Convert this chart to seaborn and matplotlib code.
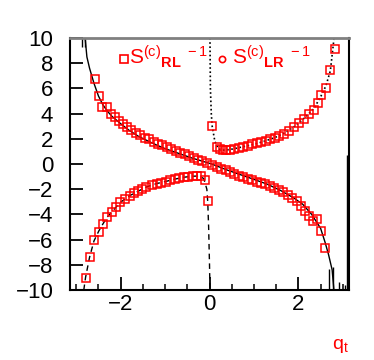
import numpy as np
import pandas as pd
import matplotlib
matplotlib.use("Agg")
import matplotlib.pyplot as plt
import seaborn as sns

plt.rcParams['font.family'] = ['Liberation Sans', 'DejaVu Sans']
plt.rcParams['mathtext.fontset'] = 'custom'
plt.rcParams['mathtext.sf'] = 'Liberation Sans'
plt.rcParams['mathtext.rm'] = 'Liberation Sans'
plt.rcParams['mathtext.it'] = 'Liberation Sans'
plt.rcParams['mathtext.bf'] = 'Liberation Sans:bold'

# solid curve (upper left -> lower right)
solid_x = [-2.80, -2.76, -2.70, -2.60, -2.50, -2.40, -2.30, -2.20, -2.00, -1.80,
           -1.60, -1.40, -1.20, -1.00, -0.70, -0.40, 0.05, 0.40, 0.70, 1.00,
           1.30, 1.60, 1.90, 2.10, 2.30, 2.50, 2.60, 2.68, 2.76, 2.80]
solid_y = [10.0, 8.5, 7.6, 6.4, 5.4, 4.7, 4.2, 3.8, 3.2, 2.65,
           2.2, 1.85, 1.52, 1.22, 0.85, 0.48, 0.0, -0.48, -0.85, -1.22,
           -1.6, -2.1, -2.7, -3.2, -4.0, -5.1, -6.2, -7.2, -8.4, -10.0]

# dashed curve (lower left branch)
dash_x = [-2.83, -2.79, -2.70, -2.60, -2.49, -2.39, -2.30, -2.20, -2.01, -1.79,
          -1.60, -1.42, -1.19, -0.98, -0.78, -0.58, -0.38, -0.24, -0.13, -0.06,
          -0.04, -0.02, 0.00, 0.01]
dash_y = [-10.0, -9.0, -7.4, -6.1, -5.3, -4.7, -4.2, -3.8, -3.05, -2.5,
          -2.15, -1.82, -1.55, -1.38, -1.2, -1.05, -0.97, -0.95, -1.15, -2.0,
          -3.0, -5.0, -8.0, -10.0]

# dotted curve (upper right branch)
dot_x = [0.01, 0.02, 0.04, 0.06, 0.12, 0.20, 0.30, 0.45, 0.66, 0.86,
         1.07, 1.27, 1.47, 1.67, 1.90, 2.12, 2.35, 2.51, 2.62, 2.72, 2.80]
dot_y = [10.0, 6.0, 4.0, 3.0, 1.8, 1.2, 1.1, 1.14, 1.3, 1.45,
         1.63, 1.85, 2.1, 2.42, 2.95, 3.6, 4.4, 5.4, 6.2, 7.4, 9.9]

# markers on the solid curve
rl_x = [-2.58, -2.49, -2.41, -2.31, -2.22, -2.12, -2.03, -1.94, -1.85, -1.76,
        -1.66, -1.56, -1.46, -1.36, -1.26, -1.16, -1.06, -0.96, -0.86, -0.76,
        -0.66, -0.56, -0.46, -0.36, -0.26, -0.16, -0.06, 0.06, 0.16, 0.26,
        0.36, 0.46, 0.56, 0.66, 0.76, 0.86, 0.96, 1.06, 1.16, 1.26,
        1.36, 1.46, 1.56, 1.66, 1.76, 1.86, 1.96, 2.06, 2.15, 2.25,
        2.32, 2.42, 2.51, 2.61]
rl_y = [6.76, 5.43, 4.55, 4.5, 4.0, 3.7, 3.45, 3.15, 2.9, 2.7,
        2.45, 2.3, 2.1, 1.95, 1.78, 1.62, 1.48, 1.33, 1.18, 1.03,
        0.9, 0.77, 0.62, 0.48, 0.35, 0.22, 0.08, -0.1, -0.22, -0.38,
        -0.5, -0.63, -0.78, -0.92, -1.04, -1.15, -1.28, -1.4, -1.5, -1.62,
        -1.75, -1.88, -2.05, -2.25, -2.45, -2.7, -2.95, -3.3, -3.7, -4.1,
        -4.5, -4.4, -5.33, -6.66]

# markers on the dashed and dotted branches
lr_x = [-2.79, -2.70, -2.60, -2.49, -2.39, -2.30, -2.20, -2.10, -2.01, -1.90,
        -1.79, -1.70, -1.60, -1.51, -1.42, -1.30, -1.19, -1.09, -0.98, -0.88,
        -0.78, -0.68, -0.58, -0.48, -0.38, -0.28, -0.19, -0.11, -0.04,
        0.05, 0.17, 0.24, 0.30, 0.38, 0.46, 0.56, 0.66, 0.76, 0.86,
        0.96, 1.07, 1.17, 1.27, 1.37, 1.47, 1.57, 1.67, 1.78, 1.90,
        2.01, 2.12, 2.23, 2.35, 2.44, 2.51, 2.62, 2.72, 2.82]
lr_y = [-9.04, -7.36, -6.07, -5.4, -4.76, -4.2, -3.8, -3.4, -3.04, -2.75,
        -2.5, -2.33, -2.17, -2.0, -1.82, -1.68, -1.56, -1.5, -1.4, -1.3,
        -1.2, -1.12, -1.05, -1.0, -0.97, -0.96, -0.95, -1.24, -2.9,
        3.0, 1.37, 1.17, 1.12, 1.12, 1.15, 1.2, 1.3, 1.38, 1.45,
        1.55, 1.63, 1.75, 1.85, 1.95, 2.1, 2.25, 2.42, 2.65, 2.95,
        3.25, 3.6, 3.95, 4.28, 4.85, 5.45, 6.05, 7.5, 9.1]

# short vertical strokes near the asymptotes
spike_x = [-2.88, -2.81, 2.70, 2.78, 2.91, 3.04, 3.09]
spike_lo = [9.3, 9.3, -10.0, -10.0, -10.0, -10.0, -10.0]
spike_hi = [10.0, 10.0, -8.3, -8.2, -9.4, -9.6, 0.7]

fig = plt.figure(figsize=(3.74, 3.6), dpi=100)
ax = fig.add_axes([0.1872, 0.1944, 0.746, 0.70])

sns.lineplot(x=solid_x, y=solid_y, sort=False, estimator=None, color='black',
             linewidth=1.0, ax=ax)
sns.lineplot(x=dash_x, y=dash_y, sort=False, estimator=None, color='black',
             linewidth=1.0, linestyle=(0, (4, 3)), ax=ax)
sns.lineplot(x=dot_x, y=dot_y, sort=False, estimator=None, color='black',
             linewidth=1.2, linestyle=(0, (1, 1.5)), ax=ax)
ax.vlines(spike_x, spike_lo, spike_hi, color='black', linewidth=1.0)

ax.plot(rl_x, rl_y, linestyle='none', marker='s', markersize=5.4,
        markerfacecolor='none', markeredgecolor='red', markeredgewidth=1.1)
ax.plot(lr_x, lr_y, linestyle='none', marker='s', markersize=5.4,
        markerfacecolor='none', markeredgecolor='red', markeredgewidth=1.1)

ax.set_xlim(-3.14, 3.14)
ax.set_ylim(-10, 10)
ax.set_xticks([-2, 0, 2])
ax.set_xticks(np.arange(-3.0, 3.01, 0.5), minor=True)
ax.set_yticks(np.arange(-10, 11, 2))
ax.tick_params(axis='both', which='major', direction='in', length=9.5, width=1.3,
               labelsize=16, top=False, right=False)
ax.tick_params(axis='x', which='minor', direction='in', length=4.5, width=1.1,
               top=False)
ax.tick_params(axis='y', pad=12)
ax.tick_params(axis='x', pad=3)
for side in ['left', 'bottom', 'right']:
    ax.spines[side].set_linewidth(1.5)
    ax.spines[side].set_color('black')
ax.spines['top'].set_linewidth(2)
ax.spines['top'].set_color('#808080')

# legend-like labels
ax.plot([0.195], [0.918], transform=ax.transAxes, marker='s', markersize=5.5,
        markerfacecolor='none', markeredgecolor='red', markeredgewidth=1.2,
        clip_on=False)
ax.text(0.212, 0.897, r'$\mathsf{S}^{(c)}{}_{\mathbf{RL}}{}^{\ -1}$',
        transform=ax.transAxes, color='red', fontsize=15, va='baseline')
ax.plot([0.543], [0.917], transform=ax.transAxes, marker='o', markersize=4.5,
        markerfacecolor='none', markeredgecolor='red', markeredgewidth=1.2,
        clip_on=False)
ax.text(0.58, 0.897, r'$\mathsf{S}^{(c)}{}_{\mathbf{LR}}{}^{\ -1}$',
        transform=ax.transAxes, color='red', fontsize=15, va='baseline')

fig.text(0.887, 0.03, r'$\mathsf{q}_{\mathsf{t}}$', color='red', fontsize=14)

fig.savefig('out.png', dpi=100)
